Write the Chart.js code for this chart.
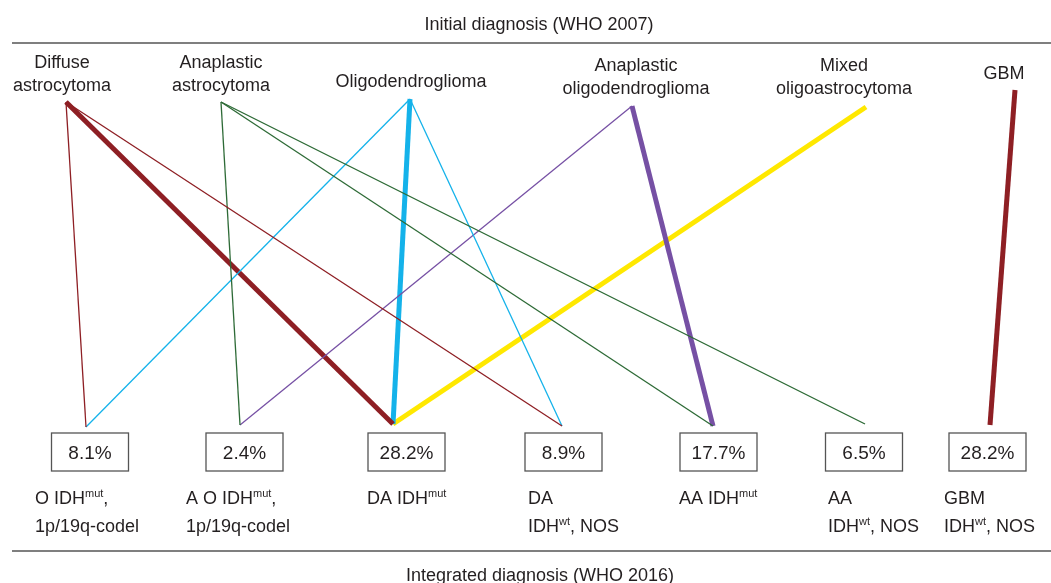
<!DOCTYPE html>
<html>
<head>
<meta charset="utf-8">
<script src="https://cdn.jsdelivr.net/npm/chart.js@4"></script>
<style>
  body { margin: 0; background: #fff; }
  #wrap { width: 1051px; height: 583px; }
</style>
</head>
<body>
<div id="wrap"><canvas id="flowChart" width="1051" height="583"></canvas></div>
<script>
// WHO 2007 groups (top row)
var initialLabels = [["Diffuse", "astrocytoma"], ["Anaplastic", "astrocytoma"], ["Oligodendroglioma"],
	["Anaplastic", "oligodendroglioma"], ["Mixed", "oligoastrocytoma"], ["GBM"]];
var initialX = [66, 221, 410, 632, 866, 1015];
var initialY = [102, 102, 99, 106, 107, 90];
var initialTextX = [62, 221, 411, 636, 844, 1004];

// WHO 2016 integrated groups (bottom row)
// each label line is a list of [text, isSuperscript]
var integratedLabels = [
	[[["O IDH", 0], ["mut", 1], [",", 0]], [["1p/19q-codel", 0]]],
	[[["A O IDH", 0], ["mut", 1], [",", 0]], [["1p/19q-codel", 0]]],
	[[["DA IDH", 0], ["mut", 1]]],
	[[["DA", 0]], [["IDH", 0], ["wt", 1], [", NOS", 0]]],
	[[["AA IDH", 0], ["mut", 1]]],
	[[["AA", 0]], [["IDH", 0], ["wt", 1], [", NOS", 0]]],
	[[["GBM", 0]], [["IDH", 0], ["wt", 1], [", NOS", 0]]]
];
var integratedShares = [8.1, 2.4, 28.2, 8.9, 17.7, 6.5, 28.2];
var integratedX = [86, 240, 393, 562, 713, 865, 990];
var integratedY = [427, 425, 424, 426, 426, 424, 425];
var boxX = [90, 244.5, 406.5, 563.5, 718.5, 864, 987.5];
var labelX = [35, 186, 367, 528, 679, 828, 944];

// links: [from initial, to integrated, major flow]
var links = [
	[0, 0, false], [0, 2, true], [0, 3, false],
	[1, 1, false], [1, 4, false], [1, 5, false],
	[2, 0, false], [2, 2, true], [2, 3, false],
	[3, 1, false], [3, 4, true],
	[4, 2, true],
	[5, 6, true]
];
var groupColors = ["#8e1f24", "#2d6a36", "#14b2ea", "#7650a4", "#ffe800", "#8e1f24"];

var FONT = "'Liberation Sans', Arial, sans-serif";
var INK = "#231f20";

var datasets = links.map(function (l, i) {
	return {
		data: [{x: initialX[l[0]], y: initialY[l[0]]}, {x: integratedX[l[1]], y: integratedY[l[1]]}],
		borderColor: groupColors[l[0]],
		borderWidth: l[2] ? 5 : 1.3,
		showLine: true,
		pointRadius: 0,
		borderCapStyle: 'butt',
		order: l[2] ? 10 : 1
	};
});

function drawRich(ctx, parts, x, y) {
	var cx = x;
	parts.forEach(function (p) {
		ctx.font = (p[1] ? "11px " : "18px ") + FONT;
		ctx.fillText(p[0], cx, p[1] ? y - 7 : y);
		cx += ctx.measureText(p[0]).width;
	});
}

var decor = {
	id: 'decor',
	afterDraw: function (chart) {
		var ctx = chart.ctx, xs = chart.scales.x, ys = chart.scales.y;
		var px = function (v) { return xs.getPixelForValue(v); };
		var py = function (v) { return ys.getPixelForValue(v); };
		ctx.save();
		ctx.fillStyle = INK;
		ctx.textBaseline = 'alphabetic';

		// header / footer rules
		ctx.strokeStyle = "#555";
		ctx.lineWidth = 1.5;
		ctx.beginPath();
		ctx.moveTo(px(12), py(43)); ctx.lineTo(px(1051), py(43));
		ctx.moveTo(px(12), py(551)); ctx.lineTo(px(1051), py(551));
		ctx.stroke();

		ctx.font = "18px " + FONT;
		ctx.textAlign = 'center';
		ctx.fillText("Initial diagnosis (WHO 2007)", px(539), py(30));
		ctx.fillText("Integrated diagnosis (WHO 2016)", px(540), py(581));

		// top labels
		initialLabels.forEach(function (lines, i) {
			var base = lines.length === 1 ? (lines[0] === "GBM" ? 79 : 87) : 68;
			if (i >= 3 && lines.length === 2) base = 71;
			lines.forEach(function (t, j) {
				ctx.fillText(t, px(initialTextX[i]), py(base + j * 22.5));
			});
		});

		// boxes with shares
		ctx.lineWidth = 1.3;
		integratedShares.forEach(function (v, i) {
			var l = px(boxX[i] - 38.5), t = py(433);
			ctx.strokeStyle = "#555";
			ctx.strokeRect(l, t, 77, 38);
			ctx.font = "19px " + FONT;
			ctx.fillText(v.toFixed(1) + "%", px(boxX[i]), py(459));
		});

		// bottom labels
		ctx.textAlign = 'left';
		integratedLabels.forEach(function (lines, i) {
			lines.forEach(function (parts, j) {
				drawRich(ctx, parts, px(labelX[i]), py(504 + j * 28));
			});
		});
		ctx.restore();
	}
};

var ctx = document.getElementById("flowChart").getContext("2d");
new Chart(ctx, {
	type: 'scatter',
	data: {datasets: datasets},
	options: {
		responsive: false,
		animation: false,
		layout: {padding: 0},
		plugins: {legend: {display: false}, tooltip: {enabled: false}},
		scales: {
			x: {type: 'linear', min: 0, max: 1051, display: false},
			y: {type: 'linear', min: 0, max: 583, reverse: true, display: false}
		}
	},
	plugins: [decor]
});
</script>
</body>
</html>
